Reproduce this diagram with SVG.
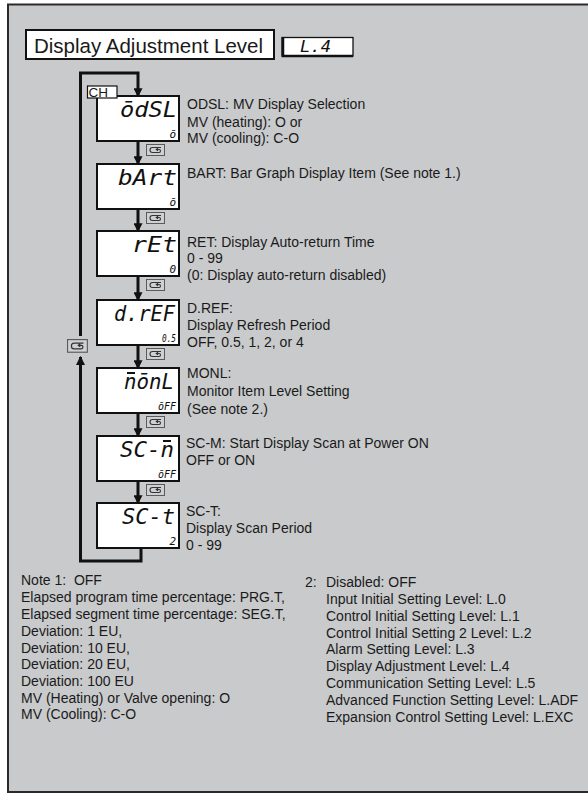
<svg xmlns="http://www.w3.org/2000/svg" xmlns:xlink="http://www.w3.org/1999/xlink" width="588" height="796" viewBox="0 0 588 796">
<style>
.t{font-family:"Liberation Sans",Arial,sans-serif;font-size:14px;fill:#1a1a1a}
.seg{font-family:"DejaVu Sans Mono",monospace;font-style:oblique;fill:#111;text-anchor:end}
.big{font-size:22px}
.sm{font-size:11px}
.disp{fill:#fff;stroke:#111;stroke-width:2}
.wire{fill:none;stroke:#111;stroke-width:3}
.bar{stroke:#111;stroke-width:2}
</style>
<defs>
<marker id="ah" markerUnits="userSpaceOnUse" markerWidth="9" markerHeight="9" refX="7" refY="4" orient="auto" viewBox="0 0 8 8">
<path d="M0,0 L8,4 L0,8 Z" fill="#111"/>
</marker>
<g id="key">
<rect x="0.5" y="0.5" width="18" height="11" fill="#cfd0d2" stroke="#5a5a5a" stroke-width="1"/>
<path d="M15,3.5 H6.5 A2.5,2.5 0 0 0 6.5,8.5 H13 A1.5,1.5 0 0 0 13,5.5 H10.5 M12,4.3 L10.3,5.5 L12,6.7" fill="none" stroke="#333" stroke-width="1.1"/>
</g>
</defs>
<rect x="0" y="0" width="588" height="796" fill="#fff"/>
<rect x="8" y="4.5" width="600" height="787.5" fill="#c9cacc" stroke="#2a2a2a" stroke-width="2"/>

<g id="title">
<rect x="26" y="30" width="248" height="29" fill="#fff" stroke="#111" stroke-width="2"/>
<text class="t" x="34" y="53" style="font-size:20.5px">Display Adjustment Level</text>
</g>
<g id="level-code">
<rect x="282" y="37.5" width="71" height="18.5" fill="#fff" stroke="#111" stroke-width="1.3"/>
<path d="M283,37.5 V56 H353" fill="none" stroke="#111" stroke-width="2.5"/>
<text class="seg" x="331" y="52" style="font-size:15px" textLength="31" lengthAdjust="spacingAndGlyphs">L.4</text>
</g>

<g id="connectors">
<path class="wire" d="M80.5,336 V73 H138 V96" marker-end="url(#ah)"/>
<path class="wire" d="M141,548 V561 H80.5 V357" marker-end="url(#ah)"/>
<path class="wire" d="M138,141 V164" marker-end="url(#ah)"/>
<path class="wire" d="M138,209 V231" marker-end="url(#ah)"/>
<path class="wire" d="M138,276 V300" marker-end="url(#ah)"/>
<path class="wire" d="M138,345 V368" marker-end="url(#ah)"/>
<path class="wire" d="M138,413 V436" marker-end="url(#ah)"/>
<path class="wire" d="M138,481 V503" marker-end="url(#ah)"/>
<use xlink:href="#key" transform="translate(67,339) scale(1.1,1.15)"/>
<use xlink:href="#key" x="146" y="144"/>
<use xlink:href="#key" x="146" y="212"/>
<use xlink:href="#key" x="146" y="279"/>
<use xlink:href="#key" x="146" y="348"/>
<use xlink:href="#key" x="146" y="416"/>
<use xlink:href="#key" x="146" y="484"/>
</g>

<g id="odsl">
<rect class="disp" x="97" y="96" width="82" height="45"/>
<rect x="87.5" y="86" width="29.5" height="12" fill="#fff" stroke="#111" stroke-width="1.2"/>
<text class="t" x="88.5" y="96.8" style="font-size:13.5px">CH</text>
<text class="seg big" x="177" y="117" textLength="57" lengthAdjust="spacingAndGlyphs">ōdSL</text>
<text class="seg sm" x="176" y="138">ō</text>
<text class="t" x="187" y="109">ODSL: MV Display Selection</text>
<text class="t" x="187" y="127">MV (heating): O or</text>
<text class="t" x="187" y="143">MV (cooling): C-O</text>
</g>

<g id="bart">
<rect class="disp" x="97" y="164" width="82" height="45"/>
<text class="seg big" x="177" y="185" textLength="59" lengthAdjust="spacingAndGlyphs">bArt</text>
<text class="seg sm" x="176" y="206">ō</text>
<text class="t" x="187" y="178">BART: Bar Graph Display Item (See note 1.)</text>
</g>

<g id="ret">
<rect class="disp" x="97" y="231" width="82" height="45"/>
<text class="seg big" x="177" y="252" textLength="45" lengthAdjust="spacingAndGlyphs">rEt</text>
<text class="seg sm" x="176" y="273">0</text>
<text class="t" x="187" y="247">RET: Display Auto-return Time</text>
<text class="t" x="187" y="263">0 - 99</text>
<text class="t" x="187" y="280">(0: Display auto-return disabled)</text>
</g>

<g id="dref">
<rect class="disp" x="97" y="300" width="82" height="45"/>
<text class="seg big" x="175" y="321" textLength="61" lengthAdjust="spacingAndGlyphs">d.rEF</text>
<text class="seg sm" x="176" y="342" textLength="14" lengthAdjust="spacingAndGlyphs">0.5</text>
<text class="t" x="187" y="313">D.REF:</text>
<text class="t" x="187" y="330">Display Refresh Period</text>
<text class="t" x="187" y="347">OFF, 0.5, 1, 2, or 4</text>
</g>

<g id="monl">
<rect class="disp" x="97" y="368" width="82" height="45"/>
<text class="seg big" x="174" y="389" textLength="50" lengthAdjust="spacingAndGlyphs">nōnL</text>
<line class="bar" x1="127" y1="373" x2="135" y2="373"/>
<text class="seg sm" x="176" y="410" textLength="18" lengthAdjust="spacingAndGlyphs">ōFF</text>
<text class="t" x="187" y="378">MONL:</text>
<text class="t" x="187" y="396">Monitor Item Level Setting</text>
<text class="t" x="187" y="414">(See note 2.)</text>
</g>

<g id="scm">
<rect class="disp" x="97" y="436" width="82" height="45"/>
<text class="seg big" x="174" y="457" textLength="54" lengthAdjust="spacingAndGlyphs">SC-n</text>
<line class="bar" x1="163" y1="441" x2="171" y2="441"/>
<text class="seg sm" x="176" y="478" textLength="18" lengthAdjust="spacingAndGlyphs">ōFF</text>
<text class="t" x="186" y="448">SC-M: Start Display Scan at Power ON</text>
<text class="t" x="186" y="465">OFF or ON</text>
</g>

<g id="sct">
<rect class="disp" x="97" y="503" width="82" height="45"/>
<text class="seg big" x="175" y="524" textLength="53" lengthAdjust="spacingAndGlyphs">SC-t</text>
<text class="seg sm" x="176" y="545">2</text>
<text class="t" x="186" y="516">SC-T:</text>
<text class="t" x="186" y="533">Display Scan Period</text>
<text class="t" x="186" y="550">0 - 99</text>
</g>

<g id="note1">
<text class="t" x="21" y="585">Note 1:&#160; OFF</text>
<text class="t" x="21" y="602">Elapsed program time percentage: PRG.T,</text>
<text class="t" x="21" y="619">Elapsed segment time percentage: SEG.T,</text>
<text class="t" x="21" y="636">Deviation: 1 EU,</text>
<text class="t" x="21" y="652.5">Deviation: 10 EU,</text>
<text class="t" x="21" y="669">Deviation: 20 EU,</text>
<text class="t" x="21" y="686">Deviation: 100 EU</text>
<text class="t" x="21" y="702.5">MV (Heating) or Valve opening: O</text>
<text class="t" x="21" y="719">MV (Cooling): C-O</text>
</g>

<g id="note2">
<text class="t" x="305" y="586.5">2:</text>
<text class="t" x="326" y="586.5">Disabled: OFF</text>
<text class="t" x="326" y="603.5">Input Initial Setting Level: L.0</text>
<text class="t" x="326" y="620.5">Control Initial Setting Level: L.1</text>
<text class="t" x="326" y="637.5">Control Initial Setting 2 Level: L.2</text>
<text class="t" x="326" y="654">Alarm Setting Level: L.3</text>
<text class="t" x="326" y="671">Display Adjustment Level: L.4</text>
<text class="t" x="326" y="688">Communication Setting Level: L.5</text>
<text class="t" x="326" y="705">Advanced Function Setting Level: L.ADF</text>
<text class="t" x="326" y="722">Expansion Control Setting Level: L.EXC</text>
</g>
</svg>
